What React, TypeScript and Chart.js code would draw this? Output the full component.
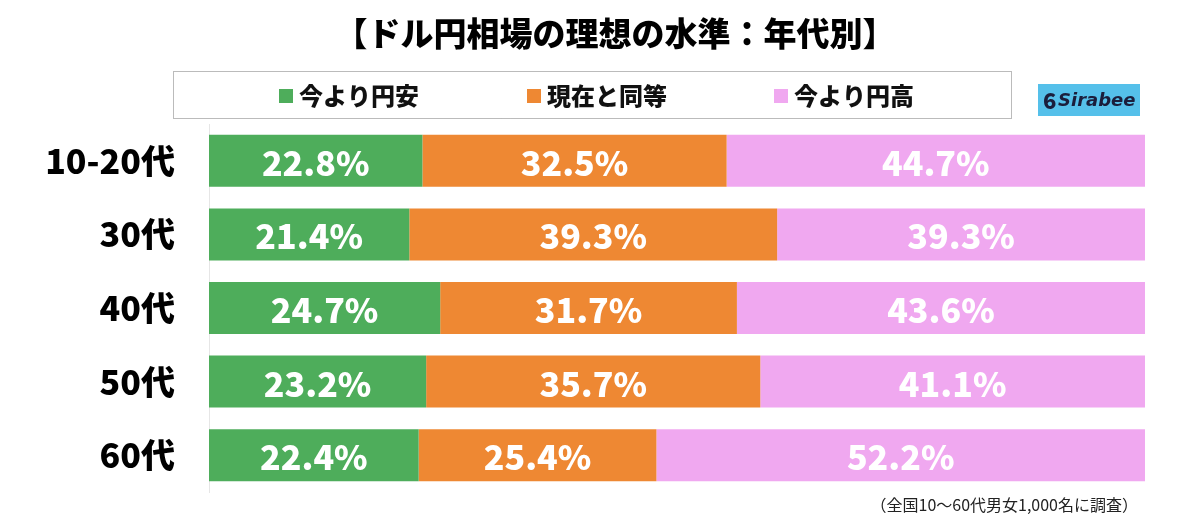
import React, { useEffect, useRef } from "react";
import { Chart, registerables } from "chart.js";

Chart.register(...registerables);

const titleText = "【ドル円相場の理想の水準：年代別】";
const categories = ["10-20代", "30代", "40代", "50代", "60代"];
const seriesNames = ["今より円安", "現在と同等", "今より円高"];
const weakerYen = [22.8, 21.4, 24.7, 23.2, 22.4];
const sameAsNow = [32.5, 39.3, 31.7, 35.7, 25.4];
const strongerYen = [44.7, 39.3, 43.6, 41.1, 52.2];
const seriesColors = ["#4EAD5B", "#EE8833", "#F0A8F0"];
const footnote = "（全国10～60代男女1,000名に調査）";
const logoText = "Sirabee";

const FONT = "'Noto Sans CJK JP', 'Noto Sans', sans-serif";

const decorPlugin = {
  id: "decor",
  afterDraw(chart: any) {
    const ctx = chart.ctx as CanvasRenderingContext2D;
    ctx.save();
    // title
    ctx.fillStyle = "#000";
    ctx.font = `900 33px ${FONT}`;
    ctx.textAlign = "center";
    ctx.textBaseline = "middle";
    ctx.fillText(titleText, 615, 33);

    // legend box
    ctx.strokeStyle = "#777";
    ctx.lineWidth = 1;
    ctx.setLineDash([1, 1]);
    ctx.strokeRect(173.5, 71.5, 838, 47);
    ctx.setLineDash([]);
    const legendX = [279, 527, 774];
    ctx.font = `900 24px ${FONT}`;
    ctx.textAlign = "left";
    seriesNames.forEach((name, i) => {
      ctx.fillStyle = seriesColors[i];
      ctx.fillRect(legendX[i], 89, 14, 14);
      ctx.fillStyle = "#111";
      ctx.fillText(name, legendX[i] + 20, 96);
    });

    // logo
    ctx.fillStyle = "#55C0EA";
    ctx.fillRect(1038, 84, 102, 32);
    ctx.fillStyle = "#1B1E3C";
    ctx.font = `900 22px ${FONT}`;
    ctx.textAlign = "left";
    ctx.fillText("6", 1043, 101);
    ctx.font = `italic bold 18px 'DejaVu Sans', sans-serif`;
    ctx.fillText(logoText, 1058, 101);

    // footnote
    ctx.fillStyle = "#222";
    ctx.font = `16px ${FONT}`;
    ctx.textAlign = "right";
    ctx.fillText(footnote, 1138, 505);
    ctx.restore();
  },
  afterDatasetsDraw(chart: any) {
    const ctx = chart.ctx as CanvasRenderingContext2D;
    ctx.save();
    ctx.fillStyle = "#fff";
    ctx.font = `900 34px ${FONT}`;
    ctx.textAlign = "center";
    ctx.textBaseline = "middle";
    chart.data.datasets.forEach((ds: any, di: number) => {
      const meta = chart.getDatasetMeta(di);
      meta.data.forEach((el: any, i: number) => {
        const v = ds.data[i];
        const cx = (el.x + el.base) / 2;
        ctx.fillText(v.toFixed(1) + "%", cx, el.y + 2);
      });
    });
    ctx.restore();
  },
};

export default function App() {
  const ref = useRef<HTMLCanvasElement>(null);
  useEffect(() => {
    if (!ref.current) return;
    const datasets = [weakerYen, sameAsNow, strongerYen].map((d, i) => ({
      label: seriesNames[i],
      data: d,
      backgroundColor: seriesColors[i],
      borderWidth: 0,
      barPercentage: 0.707,
      categoryPercentage: 1,
    }));
    const chart = new Chart(ref.current, {
      type: "bar",
      data: { labels: categories, datasets },
      options: {
        indexAxis: "y",
        responsive: false,
        animation: false,
        layout: { padding: { top: 124, bottom: 31, right: 55, left: 0 } },
        plugins: {
          legend: { display: false },
          title: { display: false },
          tooltip: { enabled: false },
        },
        scales: {
          x: {
            stacked: true,
            min: 0,
            max: 100,
            display: false,
          },
          y: {
            stacked: true,
            grid: { display: false, drawTicks: false },
            border: { display: true, color: "#e6e6e6", width: 1 },
            ticks: {
              color: "#000",
              padding: 34,
              font: { family: FONT, size: 34, weight: "900" },
            },
            afterFit(scale: any) {
              scale.width = 209;
              scale.paddingTop = 0;
              scale.paddingBottom = 0;
            },
          },
        },
      },
      plugins: [decorPlugin],
    });
    return () => chart.destroy();
  }, []);
  return (
    <div style={{ position: "absolute", left: 0, top: 0, width: 1200, height: 523, background: "#fff" }}>
      <canvas ref={ref} width={1200} height={523} style={{ width: 1200, height: 523 }} />
    </div>
  );
}
